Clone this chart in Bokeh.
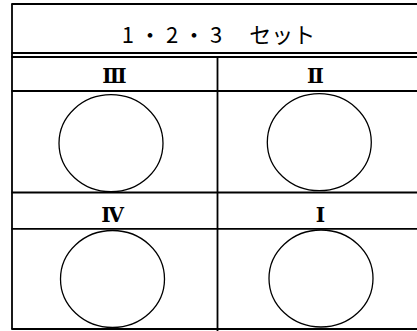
from bokeh.plotting import figure
from bokeh.embed import file_html
from bokeh.resources import INLINE
from bokeh.core.properties import value

title = "1 ・ 2 ・ 3　 セット"
labels = ["Ⅲ", "Ⅱ", "Ⅳ", "Ⅰ"]

p = figure(width=417, height=331, x_range=(0, 417), y_range=(331, 0),
           output_backend="svg", toolbar_location=None, min_border=0)
p.axis.visible = False
p.grid.visible = False
p.outline_line_color = None
p.background_fill_color = "white"
p.border_fill_color = "white"

# horizontal rules
hy = [3.5, 52.5, 56.5, 90.5, 192, 228.3, 328.5]
p.segment(x0=[11] * len(hy), y0=hy, x1=[417] * len(hy), y1=hy,
          line_color="black", line_width=1.8)
# vertical rules
p.segment(x0=[11.5, 217], y0=[3, 56.5], x1=[11.5, 217], y1=[329, 331],
          line_color="black", line_width=1.8)

# title
p.text(x=[218], y=[32], text=[title], text_align="center",
       text_baseline="middle", text_font=value("Noto Sans CJK JP"),
       text_font_size="22px", text_color="black")

# quadrant labels
lx = [114, 315, 112, 320]
ly = [75, 75, 214, 214]
p.text(x=lx, y=ly, text=labels, text_align="center", text_baseline="middle",
       text_font=value("DejaVu Serif"), text_font_size="20px",
       text_font_style="bold", text_color="black")

# circles
cx = [110.5, 318.8, 112, 320.5]
cy = [142.7, 141.7, 278.5, 278]
p.ellipse(x=cx, y=cy, width=104, height=97, fill_color=None,
          line_color="black", line_width=1.3)

open("out.html", "w").write(file_html(p, INLINE))
